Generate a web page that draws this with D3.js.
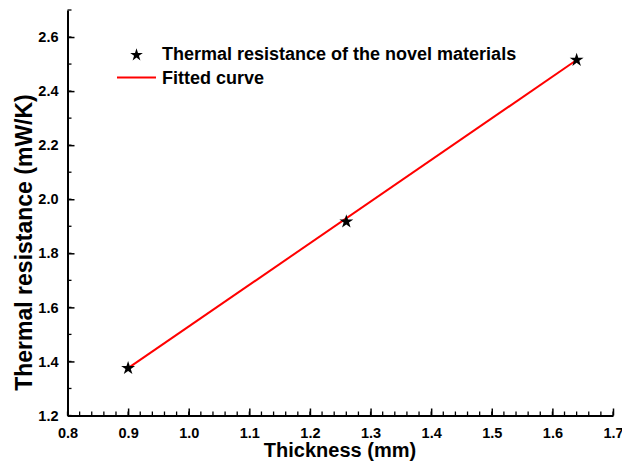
<!DOCTYPE html>
<html><head><meta charset="utf-8">
<script src="https://cdn.jsdelivr.net/npm/d3@7"></script>
<style>body{margin:0;background:#fff}svg{display:block}text{font-family:"Liberation Sans",Arial,sans-serif;font-weight:bold}</style>
</head><body>
<script>
const thickness = [0.9, 1.26, 1.64];
const resistance = [1.375, 1.917, 2.515];
const fitX = [0.9, 1.64];
const fitY = [1.375, 2.515];
const xTicks = [0.8, 0.9, 1.0, 1.1, 1.2, 1.3, 1.4, 1.5, 1.6, 1.7];
const yTicks = [1.2, 1.4, 1.6, 1.8, 2.0, 2.2, 2.4, 2.6];
const legendLabels = ["Thermal resistance of the novel materials", "Fitted curve"];

const W = 622, H = 464;
const svg = d3.select("body").append("svg").attr("width", W).attr("height", H);
const x = d3.scaleLinear().domain([0.8, 1.7]).range([67.5, 613]);
const y = d3.scaleLinear().domain([1.2, 2.7]).range([415.5, 10]);

// minor ticks
const xMinor = d3.range(0, 46).map(i => 0.8 + i * 0.02);
const yMinor = d3.range(0, 16).map(i => 1.2 + i * 0.1);

const gx = svg.append("g").attr("transform", `translate(0,${y(1.2)})`);
gx.selectAll("line.mn").data(xMinor).join("line")
  .attr("x1", d => x(d)).attr("x2", d => x(d)).attr("y1", 0).attr("y2", -4)
  .attr("stroke", "#000").attr("stroke-width", 1.3);
gx.call(d3.axisBottom(x).tickValues(xTicks).tickFormat(d3.format(".1f")).tickSizeInner(-7).tickSizeOuter(0).tickPadding(12));
gx.select(".domain").attr("stroke-width", 2);
gx.selectAll(".tick line").attr("stroke-width", 1.5);
gx.selectAll(".tick text").attr("font-size", 14.5).attr("fill", "#000").attr("font-family", "Liberation Sans, Arial").attr("font-weight", "bold");

const gy = svg.append("g").attr("transform", `translate(${x(0.8)},0)`);
gy.selectAll("line.mn").data(yMinor).join("line")
  .attr("y1", d => y(d)).attr("y2", d => y(d)).attr("x1", 0).attr("x2", 4)
  .attr("stroke", "#000").attr("stroke-width", 1.3);
gy.call(d3.axisLeft(y).tickValues(yTicks).tickFormat(d3.format(".1f")).tickSizeInner(-7).tickSizeOuter(0).tickPadding(9));
gy.select(".domain").attr("stroke-width", 2);
gy.selectAll(".tick line").attr("stroke-width", 1.5);
gy.selectAll(".tick text").attr("font-size", 14.5).attr("fill", "#000").attr("font-family", "Liberation Sans, Arial").attr("font-weight", "bold");

// fitted line
svg.append("path")
  .datum(fitX.map((v, i) => [v, fitY[i]]))
  .attr("d", d3.line().x(d => x(d[0])).y(d => y(d[1])))
  .attr("fill", "none").attr("stroke", "#ff0000").attr("stroke-width", 2);

// stars
const star = d3.symbol().type(d3.symbolStar).size(60);
svg.selectAll("path.pt").data(thickness).join("path")
  .attr("transform", (d, i) => `translate(${x(d)},${y(resistance[i])})`)
  .attr("d", star).attr("fill", "#000");

// legend
svg.append("path").attr("transform", "translate(136.5,55)").attr("d", d3.symbol().type(d3.symbolStar).size(50)).attr("fill", "#000");
svg.append("line").attr("x1", 117).attr("x2", 156).attr("y1", 77.5).attr("y2", 77.5)
  .attr("stroke", "#ff0000").attr("stroke-width", 2);
svg.selectAll("text.leg").data(legendLabels).join("text")
  .attr("x", 162).attr("y", (d, i) => 60 + i * 23.5)
  .attr("font-size", 18).attr("fill", "#000").text(d => d);

// axis titles
svg.append("text").attr("x", 340).attr("y", 457).attr("text-anchor", "middle")
  .attr("font-size", 20).attr("fill", "#000").text("Thickness (mm)");
svg.append("text").attr("transform", "translate(32,242.5) rotate(-90)").attr("text-anchor", "middle")
  .attr("font-size", 23).attr("fill", "#000").text("Thermal resistance (mW/K)");
</script>
</body></html>
